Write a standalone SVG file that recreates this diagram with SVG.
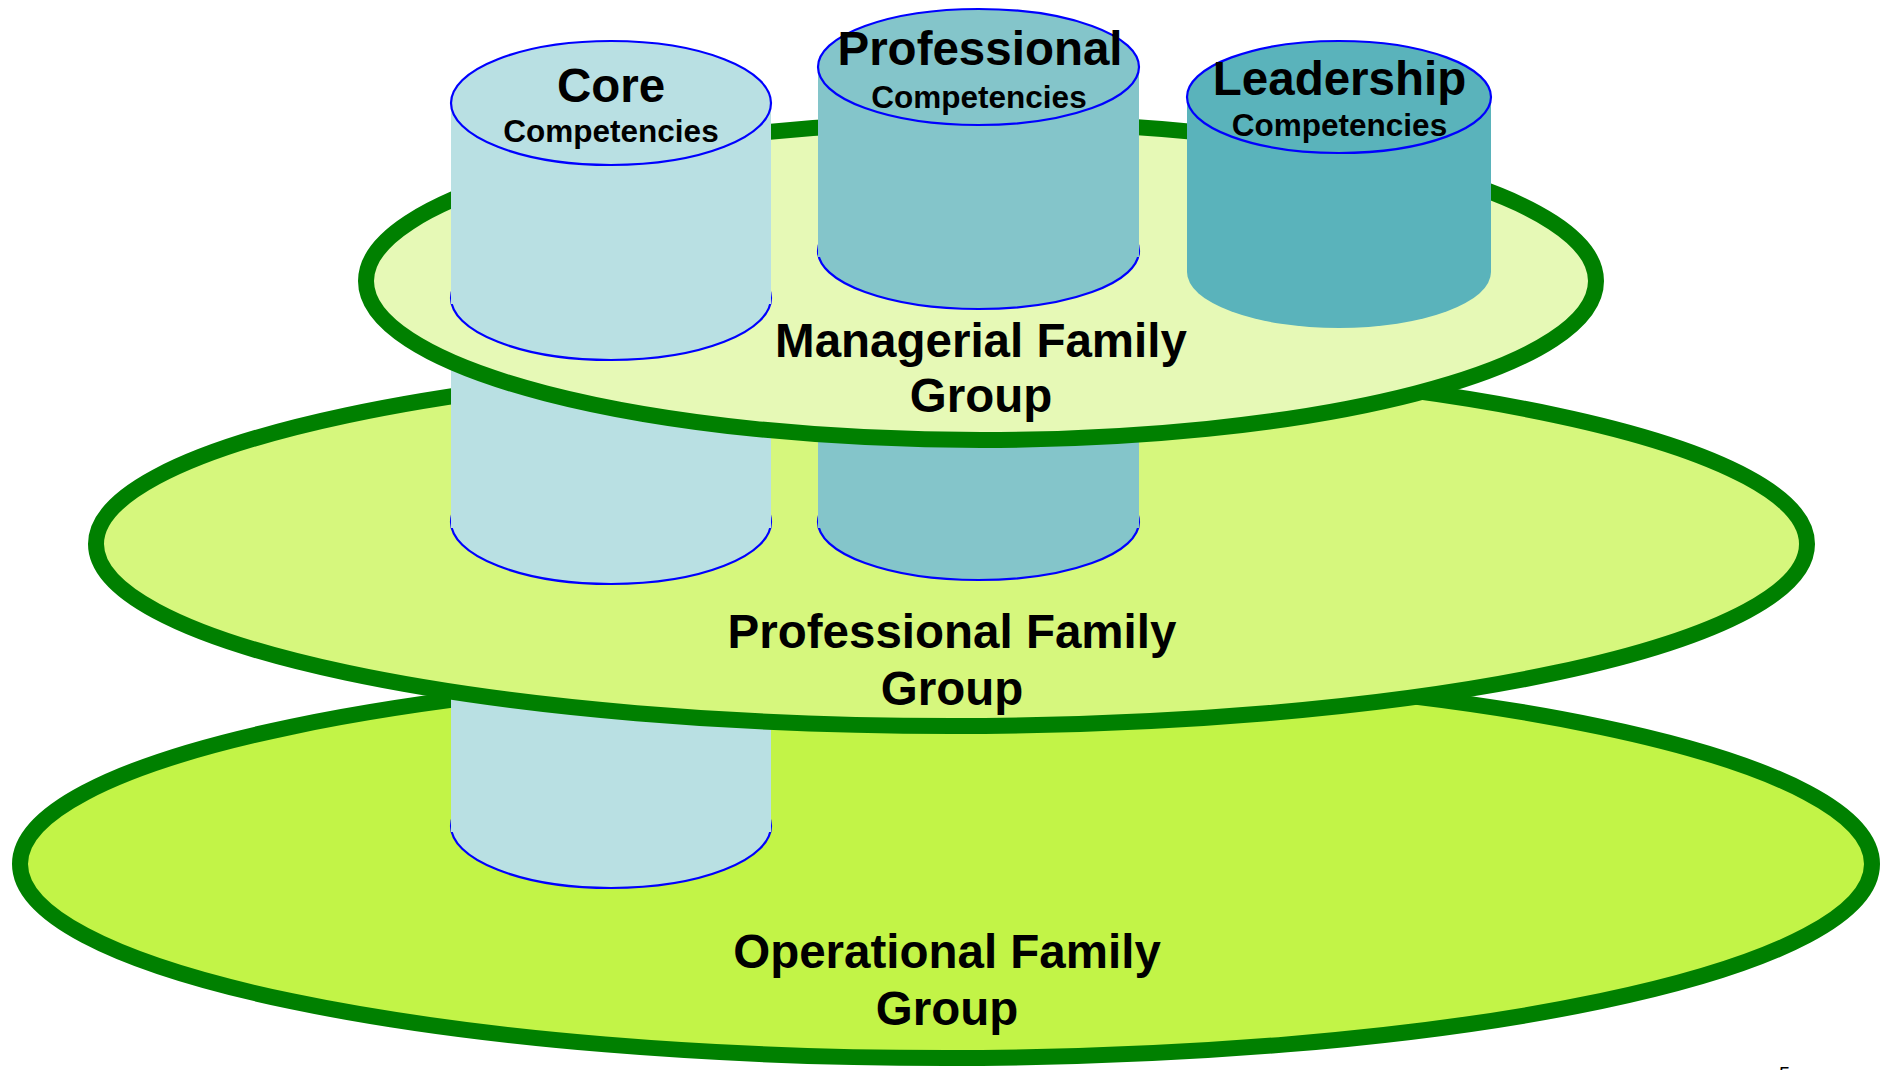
<svg xmlns="http://www.w3.org/2000/svg" width="1895" height="1070" viewBox="0 0 1895 1070">
  <style>
    .tier { stroke: #008000; stroke-width: 16; }
    .op { fill: #C2F447; }
    .pf { fill: #D6F77D; }
    .mg { fill: #E6F9B6; }
    .edge { stroke: #0000FF; stroke-width: 2.2; }
    .core { fill: #B9E0E3; }
    .prof { fill: #84C5CA; }
    .lead { fill: #5AB3BB; }
    .big { font-family: "Liberation Sans", Arial, sans-serif; font-weight: bold; font-size: 47.5px; fill: #000; text-anchor: middle; }
    .small { font-family: "Liberation Sans", Arial, sans-serif; font-weight: bold; font-size: 31.5px; fill: #000; text-anchor: middle; }
  </style>

  <g id="operational-family">
    <ellipse class="tier op" cx="946" cy="864" rx="926" ry="194"/>
  </g>

  <g id="core-lower">
    <ellipse class="core edge" cx="611" cy="826" rx="160" ry="62"/>
    <rect class="core" x="451" y="560" width="320" height="272"/>
  </g>

  <g id="professional-family">
    <ellipse class="tier pf" cx="951.5" cy="544" rx="855.5" ry="182"/>
  </g>

  <g id="core-middle">
    <ellipse class="core edge" cx="611" cy="522" rx="160" ry="62"/>
    <rect class="core" x="451" y="300" width="320" height="228"/>
  </g>

  <g id="professional-middle">
    <ellipse class="prof edge" cx="978.5" cy="522" rx="160.5" ry="58"/>
    <rect class="prof" x="818" y="300" width="321" height="228"/>
  </g>

  <g id="managerial-family">
    <ellipse class="tier mg" cx="981" cy="281" rx="615" ry="159"/>
  </g>

  <g id="core-top">
    <ellipse class="core edge" cx="611" cy="298" rx="160" ry="62"/>
    <rect class="core" x="451" y="103" width="320" height="201"/>
    <ellipse class="core edge" cx="611" cy="103" rx="160" ry="62"/>
  </g>

  <g id="professional-top">
    <ellipse class="prof edge" cx="978.5" cy="251" rx="160.5" ry="58"/>
    <rect class="prof" x="818" y="67" width="321" height="190"/>
    <ellipse class="prof edge" cx="978.5" cy="67" rx="160.5" ry="58"/>
  </g>

  <g id="leadership-top">
    <ellipse class="lead" cx="1339" cy="272" rx="152" ry="56"/>
    <rect class="lead" x="1187" y="97" width="304" height="175"/>
    <ellipse class="lead edge" cx="1339" cy="97" rx="152" ry="56"/>
  </g>

  <g id="connectors"></g>

  <g id="labels">
    <text class="big" x="611" y="102">Core</text>
    <text class="small" x="611" y="142">Competencies</text>
    <text class="big" x="980" y="65">Professional</text>
    <text class="small" x="979" y="108">Competencies</text>
    <text class="big" x="1339.5" y="95">Leadership</text>
    <text class="small" x="1339.5" y="136">Competencies</text>
    <text class="big" x="981" y="357">Managerial Family</text>
    <text class="big" x="981" y="412">Group</text>
    <text class="big" x="952" y="648">Professional Family</text>
    <text class="big" x="952" y="705">Group</text>
    <text class="big" x="947" y="968">Operational Family</text>
    <text class="big" x="947" y="1025">Group</text>
    <text x="1779" y="1081" font-family="Liberation Sans, Arial, sans-serif" font-size="20" fill="#000">5</text>
  </g>
</svg>
